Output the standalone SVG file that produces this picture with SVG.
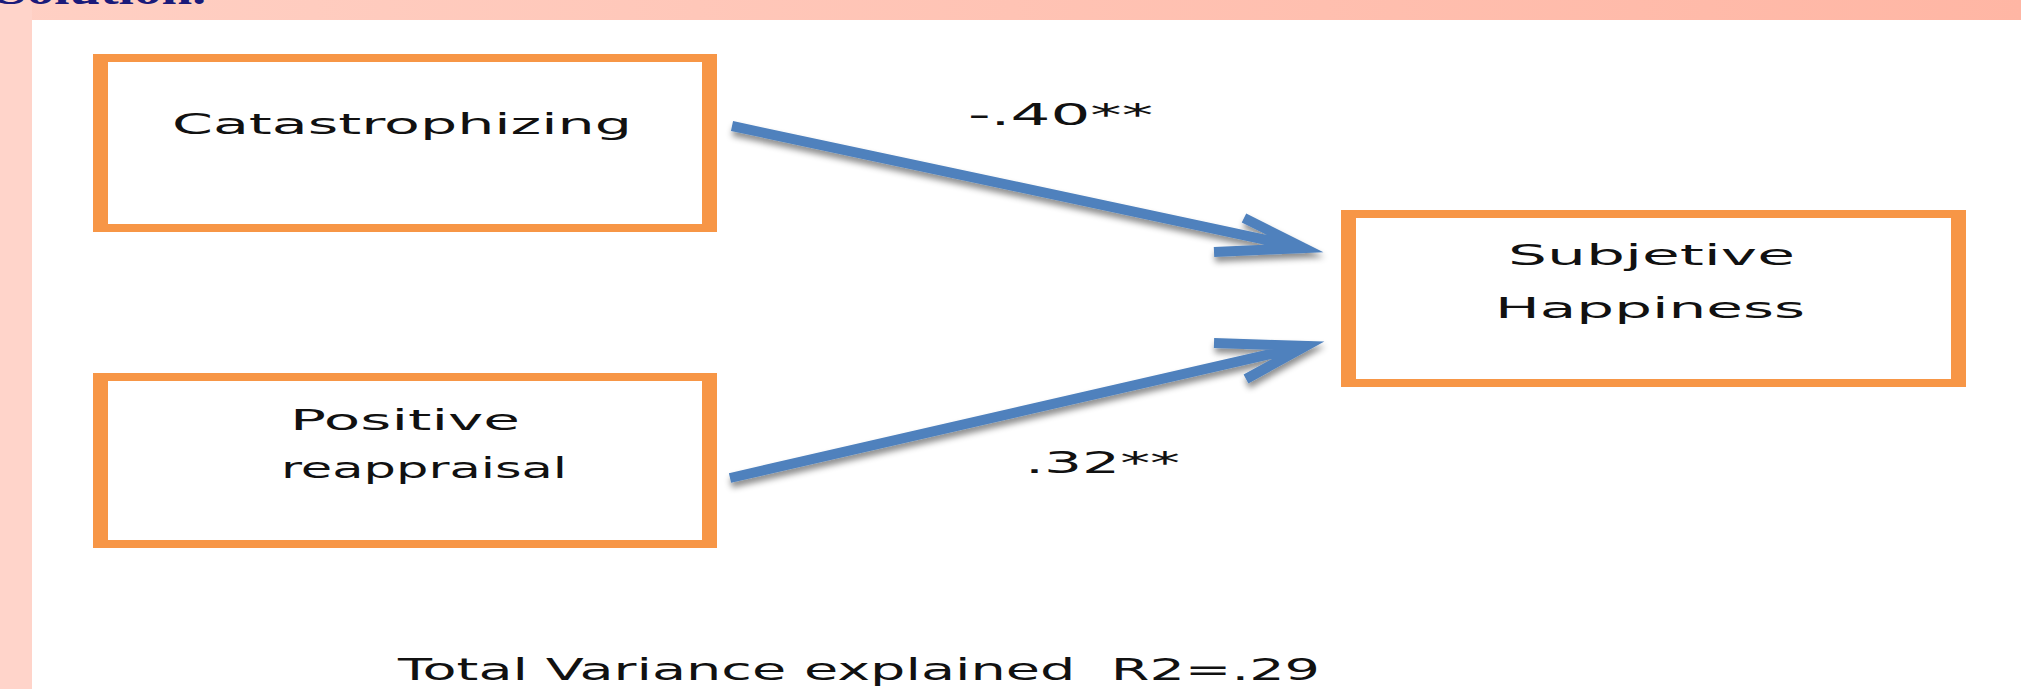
<svg xmlns="http://www.w3.org/2000/svg" width="2021" height="689" viewBox="0 0 2021 689">
  <defs>
    <linearGradient id="band" x1="0" y1="0" x2="1" y2="0">
      <stop offset="0" stop-color="#ffd0c4"/>
      <stop offset="1" stop-color="#ffb6a4"/>
    </linearGradient>
    <filter id="shadow" x="-10%" y="-30%" width="120%" height="180%">
      <feDropShadow dx="1" dy="5" stdDeviation="3" flood-color="#000" flood-opacity="0.45"/>
    </filter>
    <style>
      .frame { fill: #f79646; fill-rule: evenodd; }
      .lbl { font-family: "DejaVu Sans", Verdana, sans-serif; font-size: 29px; fill: #111; }
      .coef { font-family: "DejaVu Sans", Verdana, sans-serif; font-size: 30px; fill: #111; }
      .arrow { fill: none; stroke: #4f81bd; stroke-width: 10; stroke-linecap: butt; stroke-linejoin: miter; filter: url(#shadow); }
    </style>
  </defs>

  <!-- background -->
  <rect x="0" y="0" width="2021" height="689" fill="#ffffff"/>
  <rect x="0" y="0" width="2021" height="20" fill="url(#band)"/>
  <rect x="0" y="0" width="32" height="689" fill="#ffd4ca"/>
  <text x="-4" y="4" font-family="'Liberation Serif', serif" font-weight="bold" font-size="40" fill="#1a1a7a" textLength="210" lengthAdjust="spacingAndGlyphs">Solution.</text>

  <!-- connectors -->
  <g id="connectors">
    <g id="edge-catastrophizing-happiness">
      <path class="arrow" d="M732,126 L1304,248 M1244,218 L1304,248 L1214,252"/>
      <text class="coef" x="968" y="125" textLength="185" lengthAdjust="spacingAndGlyphs">-.40**</text>
    </g>
    <g id="edge-reappraisal-happiness">
      <path class="arrow" d="M730,478 L1306,346 M1246,379 L1306,346 L1214,343"/>
      <text class="coef" x="1025" y="473" textLength="155" lengthAdjust="spacingAndGlyphs">.32**</text>
    </g>
  </g>

  <!-- nodes -->
  <g id="node-catastrophizing">
    <path class="frame" d="M93,54 H717 V232 H93 Z M108,62 V224 H702 V62 Z"/>
    <text class="lbl" x="172" y="134" textLength="460" lengthAdjust="spacingAndGlyphs">Catastrophizing</text>
  </g>

  <g id="node-reappraisal">
    <path class="frame" d="M93,373 H717 V548 H93 Z M108,381 V540 H702 V381 Z"/>
    <text class="lbl" x="290" y="430" textLength="230" lengthAdjust="spacingAndGlyphs">Positive</text>
    <text class="lbl" x="281" y="478" textLength="286" lengthAdjust="spacingAndGlyphs">reappraisal</text>
  </g>

  <g id="node-happiness">
    <path class="frame" d="M1341,210 H1966 V387 H1341 Z M1356,218 V379 H1951 V218 Z"/>
    <text class="lbl" x="1508" y="265" textLength="287" lengthAdjust="spacingAndGlyphs">Subjetive</text>
    <text class="lbl" x="1495" y="318" textLength="310" lengthAdjust="spacingAndGlyphs">Happiness</text>
  </g>

  <g id="caption">
    <text x="398" y="680" xml:space="preserve" font-family="'DejaVu Sans', Verdana, sans-serif" font-size="31" fill="#111" textLength="922" lengthAdjust="spacingAndGlyphs">Total Variance explained  R2=.29</text>
  </g>
</svg>
